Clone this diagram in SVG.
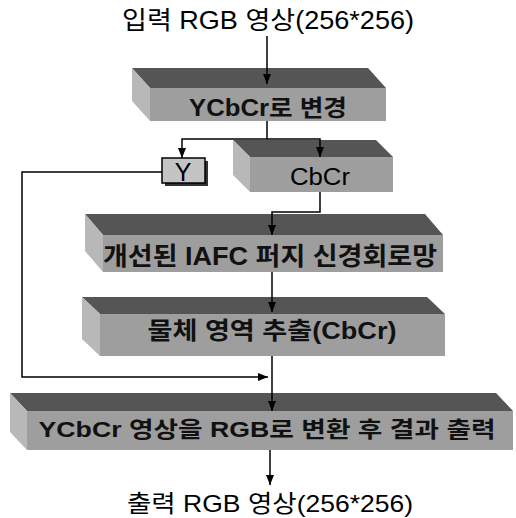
<svg xmlns="http://www.w3.org/2000/svg" width="516" height="518" viewBox="0 0 516 518">
<defs>
<style>
.top{fill:#555}
.left{fill:#b8b8b8}
.front{fill:#9e9e9e}
.lbl{font-family:"Liberation Sans","Noto Sans CJK KR",sans-serif;fill:#000;text-anchor:middle}
.btxt{font-family:"Liberation Sans","Noto Sans CJK KR",sans-serif;fill:#111;text-anchor:middle;font-weight:bold}
.con{fill:none;stroke:#000;stroke-width:1.5}
</style>
<marker id="ah" markerUnits="userSpaceOnUse" markerWidth="10" markerHeight="8" refX="10" refY="4" orient="auto">
<path d="M0,0 L10,4 L0,8 z" fill="#000"/>
</marker>
</defs>
<rect width="516" height="518" fill="#fff"/>

<g id="input">
<text class="lbl" x="268" y="29" font-size="25" textLength="292" lengthAdjust="spacingAndGlyphs">입력 RGB 영상(256*256)</text>
</g>

<g id="ycbcr">
<polygon class="top" points="132,68 368,68 386,88 150,88"/>
<polygon class="left" points="132,68 150,88 150,121 132,101"/>
<rect class="front" x="150" y="88" width="236" height="33"/>
<text class="btxt" x="268" y="116" font-size="23" textLength="158" lengthAdjust="spacingAndGlyphs">YCbCr로 변경</text>
</g>

<g id="y">
<rect x="165" y="161" width="43" height="25" fill="#333"/>
<rect x="162" y="158" width="43" height="25" fill="#c4c4c4" stroke="#000" stroke-width="1.5"/>
<text class="lbl" x="183" y="181" font-size="25">Y</text>
</g>

<g id="cbcr">
<polygon class="top" points="233,140 376,140 393,157 250,157"/>
<polygon class="left" points="233,140 250,157 250,192 233,175"/>
<rect class="front" x="250" y="157" width="143" height="35"/>
<text class="lbl" x="320" y="185" font-size="23" textLength="60" lengthAdjust="spacingAndGlyphs">CbCr</text>
</g>

<g id="iafc">
<polygon class="top" points="85,214 425,214 443,235 103,235"/>
<polygon class="left" points="85,214 103,235 103,272 85,251"/>
<rect class="front" x="103" y="235" width="340" height="37"/>
<text class="btxt" x="270" y="265" font-size="25" textLength="334" lengthAdjust="spacingAndGlyphs">개선된 IAFC 퍼지 신경회로망</text>
</g>

<g id="extract">
<polygon class="top" points="82,297 427,297 445,314 100,314"/>
<polygon class="left" points="82,297 100,314 100,356 82,339"/>
<rect class="front" x="100" y="314" width="345" height="42"/>
<text class="btxt" x="272" y="339" font-size="24" textLength="249" lengthAdjust="spacingAndGlyphs">물체 영역 추출(CbCr)</text>
</g>

<g id="convert">
<polygon class="top" points="10,393 496,393 513,411 27,411"/>
<polygon class="left" points="10,393 27,411 27,450 10,432"/>
<rect class="front" x="27" y="411" width="486" height="39"/>
<text class="btxt" x="267" y="437" font-size="22" textLength="457" lengthAdjust="spacingAndGlyphs">YCbCr 영상을 RGB로 변환 후 결과 출력</text>
</g>

<g id="output">
<text class="lbl" x="270" y="512" font-size="24" textLength="286" lengthAdjust="spacingAndGlyphs">출력 RGB 영상(256*256)</text>
</g>

<g id="connectors">
<path class="con" d="M267,36 V84" marker-end="url(#ah)"/>
<path class="con" d="M267,121 V139 H182 V158" marker-end="url(#ah)"/>
<path class="con" d="M267,139 H320 V157" marker-end="url(#ah)"/>
<path class="con" d="M162,172 H22 V377 H268" marker-end="url(#ah)"/>
<path class="con" d="M320,192 V212 H272 V235" marker-end="url(#ah)"/>
<path class="con" d="M272,272 V312" marker-end="url(#ah)"/>
<path class="con" d="M272,356 V411" marker-end="url(#ah)"/>
<path class="con" d="M270,450 V485" marker-end="url(#ah)"/>
</g>
</svg>
